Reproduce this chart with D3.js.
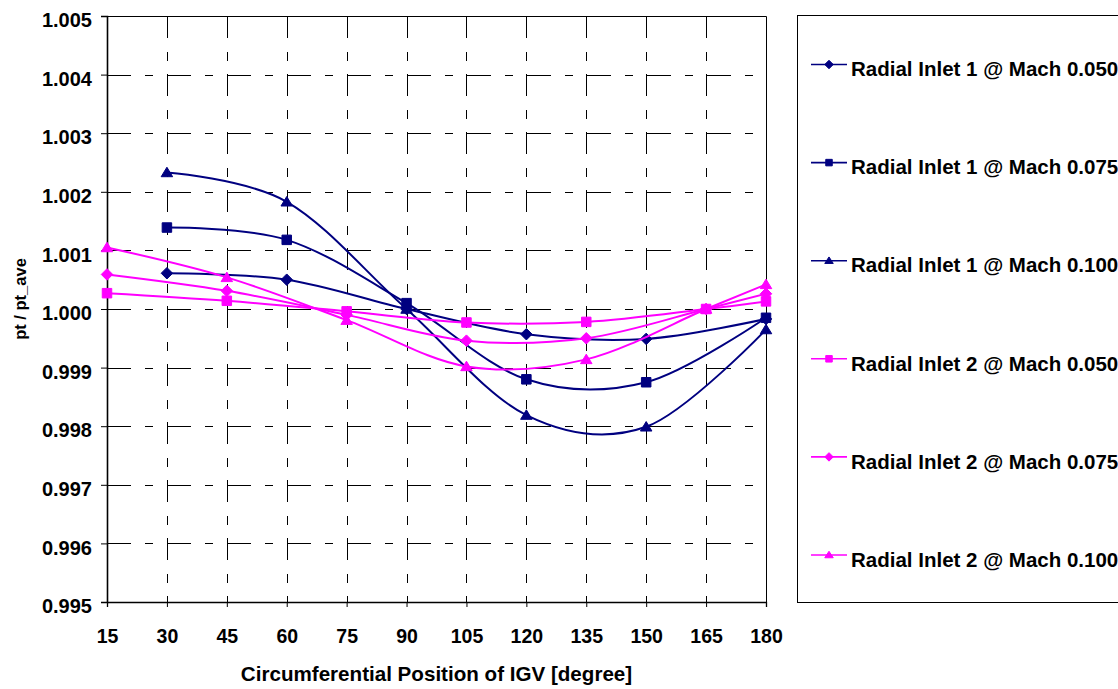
<!DOCTYPE html>
<html>
<head>
<meta charset="utf-8">
<script src="https://cdn.jsdelivr.net/npm/d3@7"></script>
<style>
  html, body { margin: 0; padding: 0; background: #fff; }
  svg { display: block; }
  text { font-family: "Liberation Sans", Arial, sans-serif; font-weight: bold; fill: #000; }
</style>
</head>
<body>
<svg id="chart" width="1118" height="689"></svg>
<script>
// Circumferential positions (degrees) for each inlet
const anglesInlet1 = [30, 60, 90, 120, 150, 180];
const anglesInlet2 = [15, 45, 75, 105, 135, 165, 180];

// pt / pt_ave per position
const inlet1Mach050 = [1.00061, 1.00050, 1.00000, 0.99957, 0.99949, 0.99983];
const inlet1Mach075 = [1.00139, 1.00118, 1.00010, 0.99880, 0.99875, 0.99985];
const inlet1Mach100 = [1.00233, 1.00183, 1.00000, 0.99819, 0.99799, 0.99965];
const inlet2Mach050 = [1.00027, 1.00014, 0.99996, 0.99977, 0.99978, 1.00000, 1.00013];
const inlet2Mach075 = [1.00059, 1.00031, 0.99990, 0.99946, 0.99950, 1.00000, 1.00026];
const inlet2Mach100 = [1.00105, 1.00054, 0.99981, 0.99902, 0.99914, 1.00000, 1.00042];

const seriesNames = [
  "Radial Inlet 1 @ Mach 0.050",
  "Radial Inlet 1 @ Mach 0.075",
  "Radial Inlet 1 @ Mach 0.100",
  "Radial Inlet 2 @ Mach 0.050",
  "Radial Inlet 2 @ Mach 0.075",
  "Radial Inlet 2 @ Mach 0.100"
];

const xTicks = [15, 30, 45, 60, 75, 90, 105, 120, 135, 150, 165, 180];
const yTicks = [0.995, 0.996, 0.997, 0.998, 0.999, 1.000, 1.001, 1.002, 1.003, 1.004, 1.005];

const xTitle = "Circumferential Position of IGV [degree]";
const yTitle = "pt / pt_ave";

const NAVY = "#000080", MAGENTA = "#FF00FF";

const series = [
  { name: seriesNames[0], x: anglesInlet1, y: inlet1Mach050, color: NAVY, marker: "diamond" },
  { name: seriesNames[1], x: anglesInlet1, y: inlet1Mach075, color: NAVY, marker: "square" },
  { name: seriesNames[2], x: anglesInlet1, y: inlet1Mach100, color: NAVY, marker: "triangle" },
  { name: seriesNames[3], x: anglesInlet2, y: inlet2Mach050, color: MAGENTA, marker: "square" },
  { name: seriesNames[4], x: anglesInlet2, y: inlet2Mach075, color: MAGENTA, marker: "diamond" },
  { name: seriesNames[5], x: anglesInlet2, y: inlet2Mach100, color: MAGENTA, marker: "triangle" }
];

const svg = d3.select("#chart");
const plot = { left: 107, right: 766, top: 16, bottom: 602 };

const x = d3.scaleLinear().domain([15, 180]).range([plot.left, plot.right]);
const y = d3.scaleLinear().domain([0.995, 1.005]).range([plot.bottom, plot.top]);

// marker path centred on its bounding box
function markerPath(type, s) {
  const h = s / 2;
  if (type === "square") return `M${-h},${-h}H${h}V${h}H${-h}Z`;
  if (type === "diamond") return `M0,${-h - 1}L${h + 1},0L0,${h + 1}L${-h - 1},0Z`;
  return `M0,${-h - 0.5}L${h + 1},${h - 0.5}L${-h - 1},${h - 0.5}Z`;
}

// gridlines
const grid = svg.append("g").attr("stroke", "#000").attr("stroke-width", 1).attr("fill", "none");
grid.selectAll("line.h")
  .data(yTicks.filter(d => d > 0.9955 && d < 1.0045))
  .join("line")
  .attr("x1", plot.left).attr("x2", plot.right)
  .attr("y1", d => Math.round(y(d)) + 0.5).attr("y2", d => Math.round(y(d)) + 0.5)
  .attr("stroke-dasharray", "24,14,8,14");
grid.selectAll("line.v")
  .data(xTicks.filter(d => d > 15 && d < 180))
  .join("line")
  .attr("x1", d => Math.round(x(d)) + 0.5).attr("x2", d => Math.round(x(d)) + 0.5)
  .attr("y1", plot.top).attr("y2", plot.bottom)
  .attr("stroke-dasharray", "22,14,9,13");

// plot area border (top and right)
svg.append("path")
  .attr("d", `M${plot.left},${plot.top + 0.5}H${plot.right + 0.5}V${plot.bottom}`)
  .attr("stroke", "#000").attr("stroke-width", 1).attr("fill", "none");

// axes
const yAxis = d3.axisLeft(y).tickValues(yTicks).tickFormat(d3.format(".3f")).tickSize(6).tickPadding(9);
const yG = svg.append("g").attr("transform", `translate(${plot.left},0)`).call(yAxis);
yG.select(".domain").attr("stroke-width", 1.6);
yG.selectAll(".tick line").attr("stroke-width", 1);
yG.selectAll(".tick text")
  .attr("font-size", 20).attr("font-family", "Liberation Sans, Arial, sans-serif")
  .attr("font-weight", "bold").attr("dy", "0.53em").attr("x", -15);

const xAxis = d3.axisBottom(x).tickValues(xTicks).tickFormat(d3.format("d")).tickSize(5).tickPadding(20);
const xG = svg.append("g").attr("transform", `translate(0,${plot.bottom})`).call(xAxis);
xG.select(".domain").attr("stroke-width", 1.3);
xG.selectAll(".tick text")
  .attr("font-size", 19.5).attr("font-family", "Liberation Sans, Arial, sans-serif")
  .attr("font-weight", "bold").attr("dy", 0).attr("y", 41);

// axis titles
svg.append("text")
  .attr("x", (plot.left + plot.right) / 2).attr("y", 681)
  .attr("text-anchor", "middle").attr("font-size", 20.6)
  .text(xTitle);
svg.append("text")
  .attr("transform", "translate(26,299) rotate(-90)")
  .attr("text-anchor", "middle").attr("font-size", 16.5)
  .text(yTitle);

// series lines and markers
const line = d3.line().curve(d3.curveCatmullRom.alpha(0)).x(d => x(d[0])).y(d => y(d[1]));
const sg = svg.append("g");
series.forEach(s => {
  const pts = s.x.map((v, i) => [v, s.y[i]]);
  sg.append("path").datum(pts)
    .attr("d", line)
    .attr("fill", "none").attr("stroke", s.color).attr("stroke-width", 2);
  sg.selectAll(null).data(pts).join("path")
    .attr("transform", d => `translate(${x(d[0])},${y(d[1])})`)
    .attr("d", markerPath(s.marker, 9.5))
    .attr("fill", s.color).attr("stroke", s.color).attr("stroke-width", 1);
});

// legend
const legend = svg.append("g");
legend.append("rect")
  .attr("x", 797.5).attr("y", 15.5).attr("width", 340).attr("height", 587)
  .attr("fill", "#fff").attr("stroke", "#000").attr("stroke-width", 1);
const rowY = d3.scaleLinear().domain([0, 5]).range([64.5, 555]);
series.forEach((s, i) => {
  const cy = rowY(i);
  legend.append("line")
    .attr("x1", 811).attr("x2", 847).attr("y1", cy).attr("y2", cy)
    .attr("stroke", s.color).attr("stroke-width", 1.6);
  legend.append("path")
    .attr("transform", `translate(829,${cy})`)
    .attr("d", markerPath(s.marker, 6.5))
    .attr("fill", s.color).attr("stroke", s.color).attr("stroke-width", 1);
  legend.append("text")
    .attr("x", 851).attr("y", cy + 11.7)
    .attr("font-size", 20.5)
    .text(s.name);
});
</script>
</body>
</html>
